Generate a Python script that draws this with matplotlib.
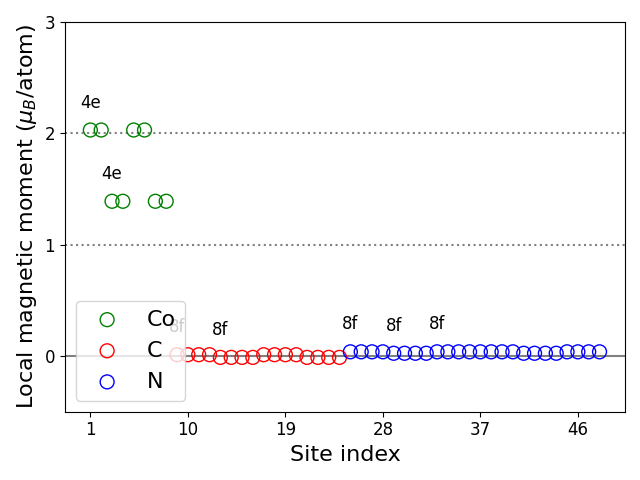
import numpy as np
import matplotlib
matplotlib.use('Agg')
import matplotlib.pyplot as plt

# site-resolved moments
co_sites = list(range(1, 9))
co_mom = [2.03, 2.03, 1.39, 1.39, 2.03, 2.03, 1.39, 1.39]
c_sites = list(range(9, 25))
c_mom = [0.012, 0.012, 0.012, 0.012, -0.012, -0.012, -0.012, -0.012,
         0.012, 0.012, 0.012, 0.012, -0.012, -0.012, -0.012, -0.012]
n_sites = list(range(25, 49))
n_mom = [0.038, 0.038, 0.038, 0.038, 0.025, 0.025, 0.025, 0.025,
         0.038, 0.038, 0.038, 0.038, 0.038, 0.038, 0.038, 0.038,
         0.025, 0.025, 0.025, 0.025, 0.038, 0.038, 0.038, 0.038]

# Wyckoff labels (first site of each group)
wy_sites = [1, 3, 9, 13, 25, 29, 33]
wy_labels = ['4e', '4e', '8f', '8f', '8f', '8f', '8f']

all_sites = co_sites + c_sites + n_sites
all_mom = co_mom + c_mom + n_mom

fig, ax = plt.subplots(figsize=(6.4, 4.8))
ax.axhline(0, color='gray', lw=1.5, zorder=0)
ax.axhline(1, color='gray', ls=':', lw=1.5, zorder=0)
ax.axhline(2, color='gray', ls=':', lw=1.5, zorder=0)

ax.scatter(co_sites, co_mom, s=100, facecolors='none', edgecolors='g', label='Co')
ax.scatter(c_sites, c_mom, s=100, facecolors='none', edgecolors='r', label='C')
ax.scatter(n_sites, n_mom, s=100, facecolors='none', edgecolors='b', label='N')

for s, lab in zip(wy_sites, wy_labels):
    ax.text(s, all_mom[all_sites.index(s)] + 0.165, lab, ha='center', va='bottom', fontsize=12)

ax.set_ylim(-0.5, 3)
ax.set_yticks([0, 1, 2, 3])
ax.set_xticks(range(1, 49, 9))
ax.tick_params(labelsize=12)
ax.set_xlabel('Site index', fontsize=16)
ax.set_ylabel(r'Local magnetic moment ($\mu_B$/atom)', fontsize=16)
ax.legend(loc='lower left', fontsize=16)
plt.tight_layout()
plt.savefig('out.png', dpi=100)
